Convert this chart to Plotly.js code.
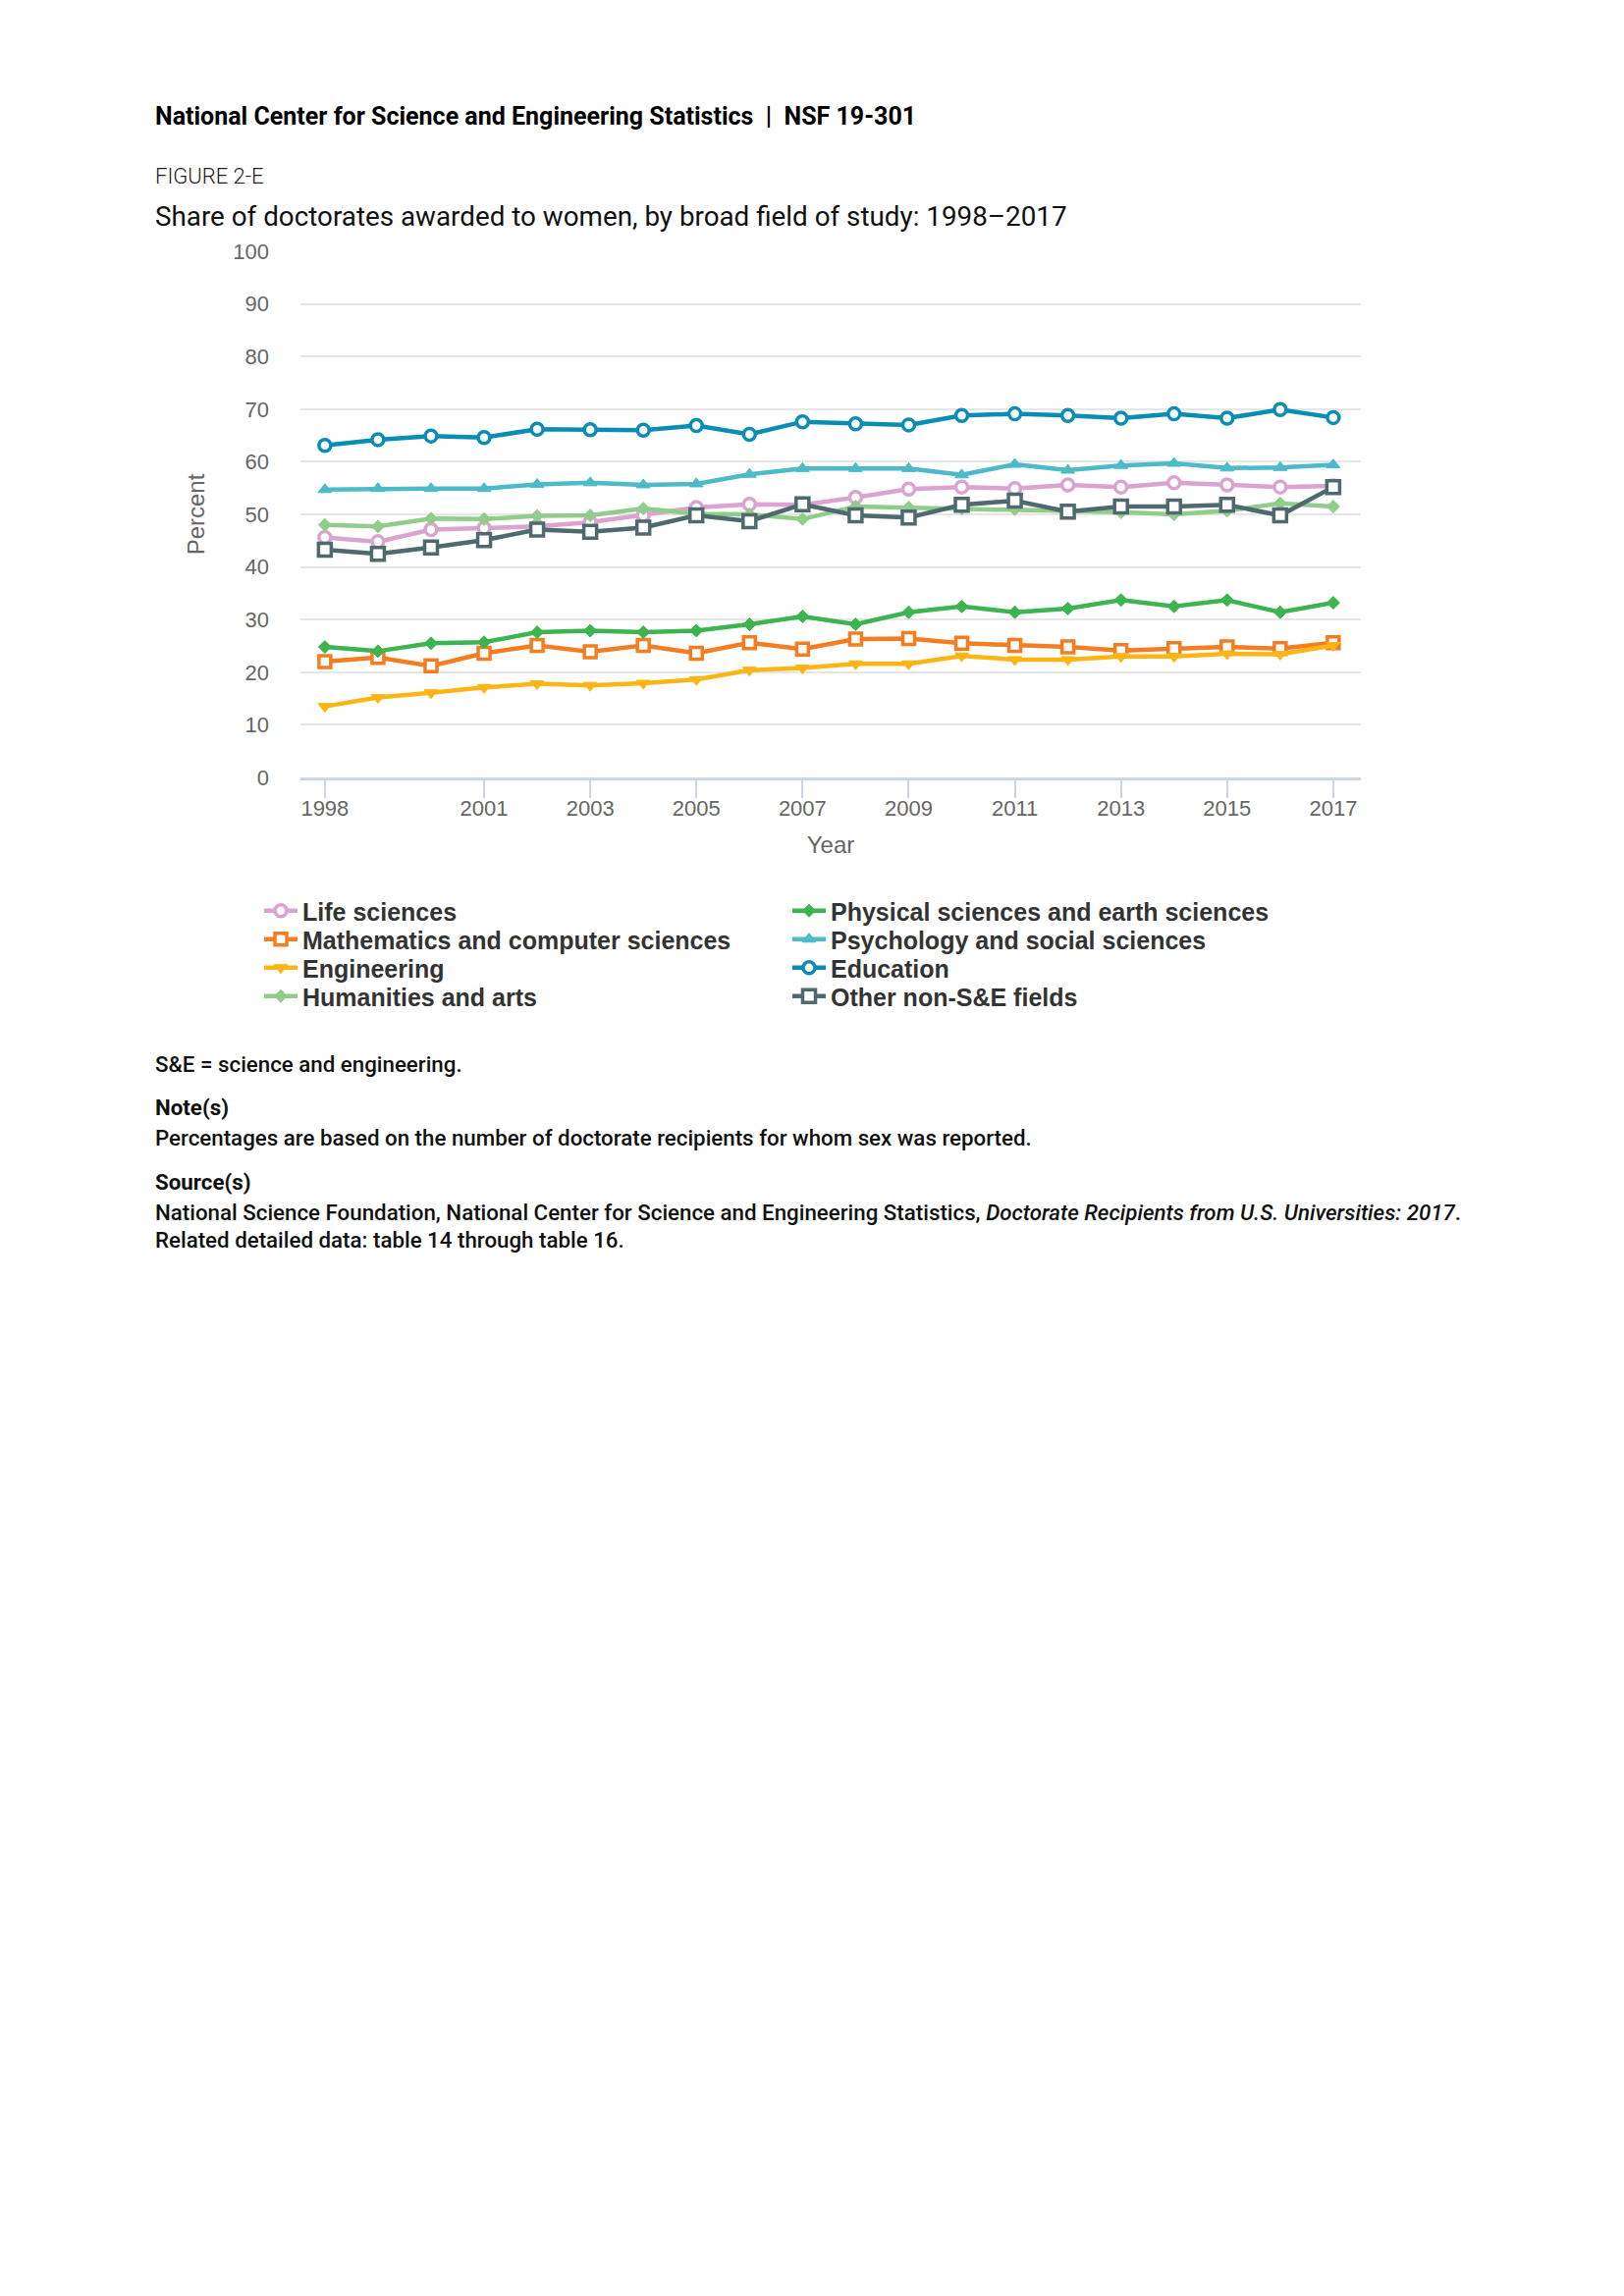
<!DOCTYPE html>
<html>
<head>
<meta charset="utf-8">
<script src="https://cdn.plot.ly/plotly-3.0.1.min.js"></script>
<style>
  html, body { margin: 0; padding: 0; background: #ffffff; }
  body { width: 1654px; height: 2339px; position: relative; overflow: hidden; font-family: Roboto, "Noto Sans", sans-serif; }
  .t { position: absolute; left: 158px; white-space: nowrap; line-height: 1; color: #111; }
  #chart { position: absolute; left: 0; top: 0; width: 1654px; height: 1100px; }
</style>
</head>
<body>
<div id="chart"></div>
<div class="t" style="top:106px; font-size:25px; font-weight:700; color:#000;">National Center for Science and Engineering Statistics&nbsp;&nbsp;|&nbsp;&nbsp;NSF 19-301</div>
<div class="t" style="top:169px; font-size:22px; font-weight:300; color:#222;">FIGURE 2-E</div>
<div class="t" style="top:207px; font-size:27.8px; font-weight:400; color:#111;">Share of doctorates awarded to women, by broad field of study: 1998–2017</div>
<div class="t" style="top:1073px; font-size:22.3px; font-weight:500;">S&amp;E = science and engineering.</div>
<div class="t" style="top:1117px; font-size:22.3px; font-weight:700;">Note(s)</div>
<div class="t" style="top:1148px; font-size:22.3px; font-weight:500;">Percentages are based on the number of doctorate recipients for whom sex was reported.</div>
<div class="t" style="top:1193px; font-size:22.3px; font-weight:700;">Source(s)</div>
<div class="t" style="top:1224px; font-size:22.3px; font-weight:500;">National Science Foundation, National Center for Science and Engineering Statistics, <i>Doctorate Recipients from U.S. Universities: 2017</i>.</div>
<div class="t" style="top:1252px; font-size:22.3px; font-weight:500;">Related detailed data: table 14 through table 16.</div>
<script>
// ---- data ----
const years = [1998, 1999, 2000, 2001, 2002, 2003, 2004, 2005, 2006, 2007, 2008, 2009, 2010, 2011, 2012, 2013, 2014, 2015, 2016, 2017];
const xTickYears = [1998, 2001, 2003, 2005, 2007, 2009, 2011, 2013, 2015, 2017];
const yTickValues = [0, 10, 20, 30, 40, 50, 60, 70, 80, 90, 100];

const lifeSciences = [45.6, 44.8, 47.1, 47.4, 47.7, 48.5, 49.8, 51.3, 51.9, 51.8, 53.2, 54.8, 55.2, 54.9, 55.6, 55.2, 56.0, 55.6, 55.2, 55.4];
const mathComputer = [22.0, 22.8, 21.2, 23.6, 25.1, 23.9, 25.1, 23.6, 25.6, 24.4, 26.3, 26.4, 25.5, 25.1, 24.8, 24.1, 24.5, 24.8, 24.5, 25.6];
const engineering = [13.5, 15.2, 16.1, 17.1, 17.8, 17.5, 17.9, 18.6, 20.4, 20.8, 21.6, 21.6, 23.1, 22.4, 22.4, 23.0, 23.0, 23.5, 23.4, 25.1];
const humanitiesArts = [48.0, 47.7, 49.2, 49.1, 49.7, 49.8, 51.1, 50.1, 50.0, 49.1, 51.5, 51.3, 51.1, 51.0, 50.8, 50.4, 50.0, 50.7, 52.1, 51.5];
const physicalEarth = [24.8, 24.0, 25.5, 25.7, 27.6, 27.9, 27.6, 27.9, 29.1, 30.6, 29.1, 31.4, 32.5, 31.4, 32.1, 33.7, 32.5, 33.7, 31.4, 33.2];
const psychologySocial = [54.7, 54.9, 54.9, 54.9, 55.7, 56.0, 55.6, 55.8, 57.6, 58.7, 58.7, 58.7, 57.5, 59.5, 58.4, 59.3, 59.7, 58.8, 58.9, 59.4];
const education = [63.1, 64.2, 64.9, 64.6, 66.2, 66.1, 66.0, 66.9, 65.2, 67.6, 67.2, 67.0, 68.8, 69.1, 68.8, 68.3, 69.1, 68.3, 69.9, 68.4];
const otherNonSE = [43.3, 42.5, 43.7, 45.1, 47.1, 46.7, 47.5, 49.8, 48.7, 51.9, 49.8, 49.4, 51.8, 52.6, 50.5, 51.5, 51.5, 51.8, 49.8, 55.2];

const seriesNames = ["Life sciences", "Mathematics and computer sciences", "Engineering", "Humanities and arts",
  "Physical sciences and earth sciences", "Psychology and social sciences", "Education", "Other non-S&E fields"];

// ---- styles (legend column/row placement) ----
const styles = [
  {y: lifeSciences,     color: "#dba3cf", symbol: "circle",        open: true,  size: 12, col: 0, row: 0},
  {y: mathComputer,     color: "#f47d22", symbol: "square",        open: true,  size: 12, col: 0, row: 1},
  {y: engineering,      color: "#fdb515", symbol: "triangle-down", open: false, size: 12, col: 0, row: 2},
  {y: humanitiesArts,   color: "#90cd8a", symbol: "diamond",       open: false, size: 10, col: 0, row: 3},
  {y: physicalEarth,    color: "#3cb44f", symbol: "diamond",       open: false, size: 10, col: 1, row: 0},
  {y: psychologySocial, color: "#4cbac8", symbol: "triangle-up",   open: false, size: 12, col: 1, row: 1},
  {y: education,        color: "#0a8db5", symbol: "circle",        open: true,  size: 12, col: 1, row: 2},
  {y: otherNonSE,       color: "#4f6a6e", symbol: "square",        open: true,  size: 13, col: 1, row: 3}
];

const plotTop = 256, plotH = 536, plotLeft = 306, plotW = 1080;
const legendColX = [264, 802];
const legendRowY = [928, 957, 986, 1015];

const traces = styles.map((s, i) => ({
  type: "scatter",
  mode: "lines+markers",
  name: seriesNames[i],
  x: years,
  y: s.y,
  legend: i === 0 ? "legend" : "legend" + (i + 1),
  line: {color: s.color, width: 4.5},
  marker: {
    symbol: s.symbol,
    size: s.size,
    color: s.open ? "#ffffff" : s.color,
    line: {color: s.color, width: s.open ? 3.5 : 1}
  },
  hoverinfo: "skip"
}));

const layout = {
  width: 1654,
  height: 1100,
  paper_bgcolor: "rgba(0,0,0,0)",
  plot_bgcolor: "rgba(0,0,0,0)",
  margin: {l: plotLeft, r: 1654 - plotLeft - plotW, t: plotTop, b: 1100 - plotTop - plotH},
  font: {family: "Liberation Sans, Arial, sans-serif", color: "#666666"},
  showlegend: true,
  xaxis: {
    range: [1997.54, 2017.52],
    tickmode: "array",
    tickvals: xTickYears,
    ticktext: xTickYears.map(String),
    ticks: "outside",
    ticklen: 18,
    tickwidth: 2,
    tickcolor: "#ccd6eb",
    showline: true,
    linecolor: "#ccd6eb",
    linewidth: 3,
    showgrid: false,
    zeroline: false,
    tickfont: {size: 22, color: "#666666"},
    ticklabelstandoff: -8,
    title: {text: "Year", font: {size: 24, color: "#666666"}, standoff: 17}
  },
  yaxis: {
    range: [0, 100],
    tickmode: "array",
    tickvals: yTickValues,
    ticks: "",
    showline: false,
    zeroline: false,
    showgrid: true,
    gridcolor: "#e6e6e6",
    gridwidth: 2,
    tickfont: {size: 22, color: "#666666"},
    ticklabelstandoff: 31,
    title: {text: "Percent", font: {size: 24, color: "#666666"}, standoff: 21}
  }
};

styles.forEach((s, i) => {
  const key = i === 0 ? "legend" : "legend" + (i + 1);
  layout[key] = {
    x: (legendColX[s.col] - plotLeft) / plotW,
    xanchor: "left",
    y: (plotTop + plotH - legendRowY[s.row]) / plotH,
    yanchor: "middle",
    itemwidth: 34,
    font: {family: "Liberation Sans, Arial, sans-serif", size: 25, color: "#333333", weight: 700},
    bgcolor: "rgba(0,0,0,0)",
    borderwidth: 0
  };
});

Plotly.newPlot("chart", traces, layout, {displayModeBar: false, staticPlot: true});
</script>
</body>
</html>
